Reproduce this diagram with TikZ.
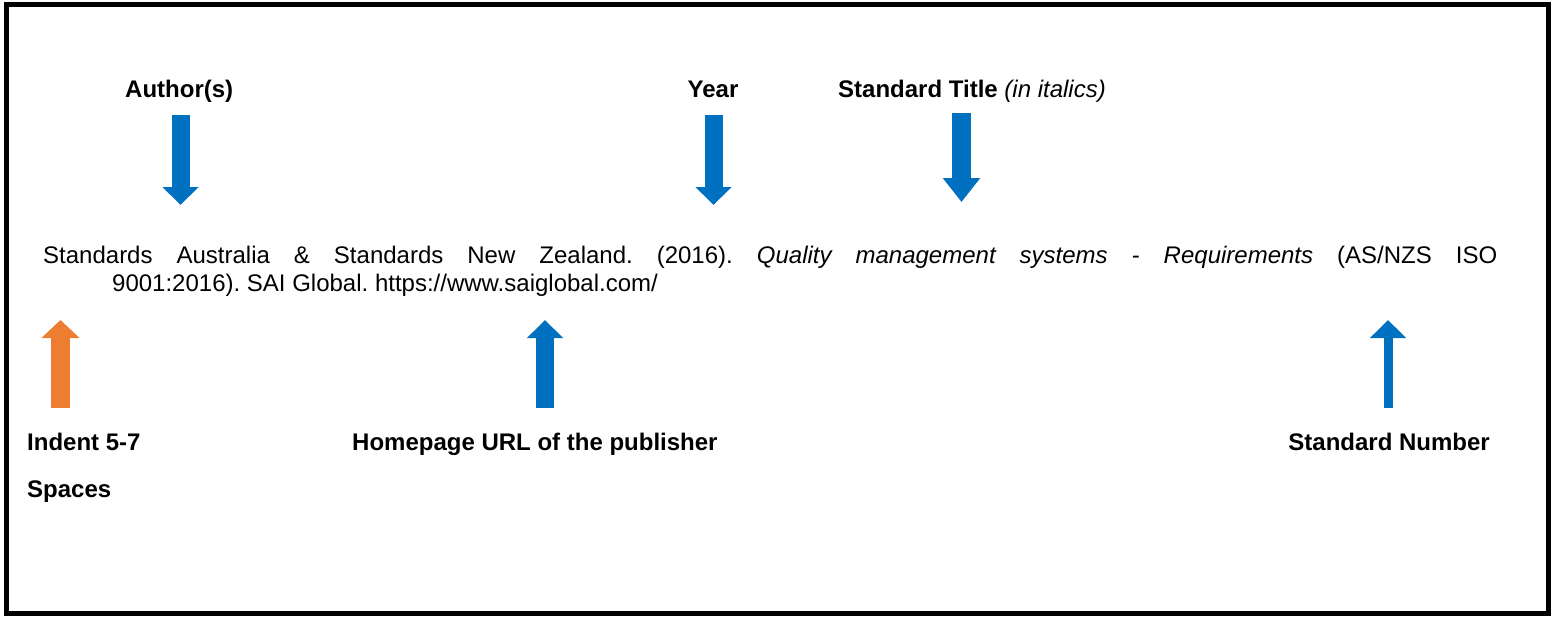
\documentclass[tikz,border=0pt]{standalone}
\usepackage{fontspec}
\setmainfont{Liberation Sans}
\usetikzlibrary{arrows.meta}
\definecolor{arrblue}{HTML}{0070C0}
\definecolor{arrorange}{HTML}{ED7D31}
\tikzset{
  lbl/.style={font=\fontsize{24}{28}\selectfont\bfseries, inner sep=0pt, anchor=base west},
  txt/.style={font=\fontsize{24}{28}\selectfont\frenchspacing, inner sep=0pt, anchor=base west},
  blockarrow/.style={line width=#1, line cap=butt},
  bluearrow/.style={blockarrow=18pt, arrblue, -{Triangle[width=35pt,length=18pt]}},
  orangearrow/.style={blockarrow=19pt, arrorange, -{Triangle[width=37pt,length=18pt]}},
}
\begin{document}
\frenchspacing
\begin{tikzpicture}[x=1pt,y=-1pt]
\useasboundingbox (0,0) rectangle (1552,618);
\draw[line width=5pt] (6.5,4.5) rectangle (1548.5,613.5);

% labels
\node[lbl] (author) at (125,97) {Author(s)};
\node[lbl, anchor=base] (year) at (713,97) {Year};
\node[lbl] (title) at (838,97) {Standard Title \textmd{\itshape (in italics)}};
\node[lbl] (indent) at (27,450) {Indent 5-7};
\node[lbl] (spaces) at (27,497) {Spaces};
\node[lbl] (url) at (352,450) {Homepage URL of the publisher};
\node[lbl, anchor=base east] (stdnum) at (1490,450) {Standard Number};

% reference text
\node[txt] (line1) at (43,263) {\makebox[1454pt][s]{Standards Australia \& Standards New Zealand. (2016). \textit{Quality management systems - Requirements} (AS/NZS ISO}};
\node[txt] (line2) at (112,291) {9001:2016). SAI Global. https://www.saiglobal.com/};

% arrow end points
\coordinate (aAuthT) at (180.5,115);
\coordinate (aAuthH) at (180.5,205);
\coordinate (aYearT) at (713.5,115);
\coordinate (aYearH) at (713.5,205);
\coordinate (aTitleT) at (961.5,113);
\coordinate (aTitleH) at (961.5,202);
\coordinate (aIndT) at (60.5,408);
\coordinate (aIndH) at (60.5,320);
\coordinate (aUrlT) at (545,408);
\coordinate (aUrlH) at (545,320);
\coordinate (aNumT) at (1388,408);
\coordinate (aNumH) at (1388,320);

\draw[bluearrow] (aAuthT) -- (aAuthH);
\draw[bluearrow] (aYearT) -- (aYearH);
\draw[bluearrow, line width=19pt, -{Triangle[width=36pt,length=24pt]}] (aTitleT) -- (aTitleH);
\draw[orangearrow] (aIndT) -- (aIndH);
\draw[bluearrow] (aUrlT) -- (aUrlH);
\draw[bluearrow, line width=9pt] (aNumT) -- (aNumH);
\end{tikzpicture}
\end{document}
